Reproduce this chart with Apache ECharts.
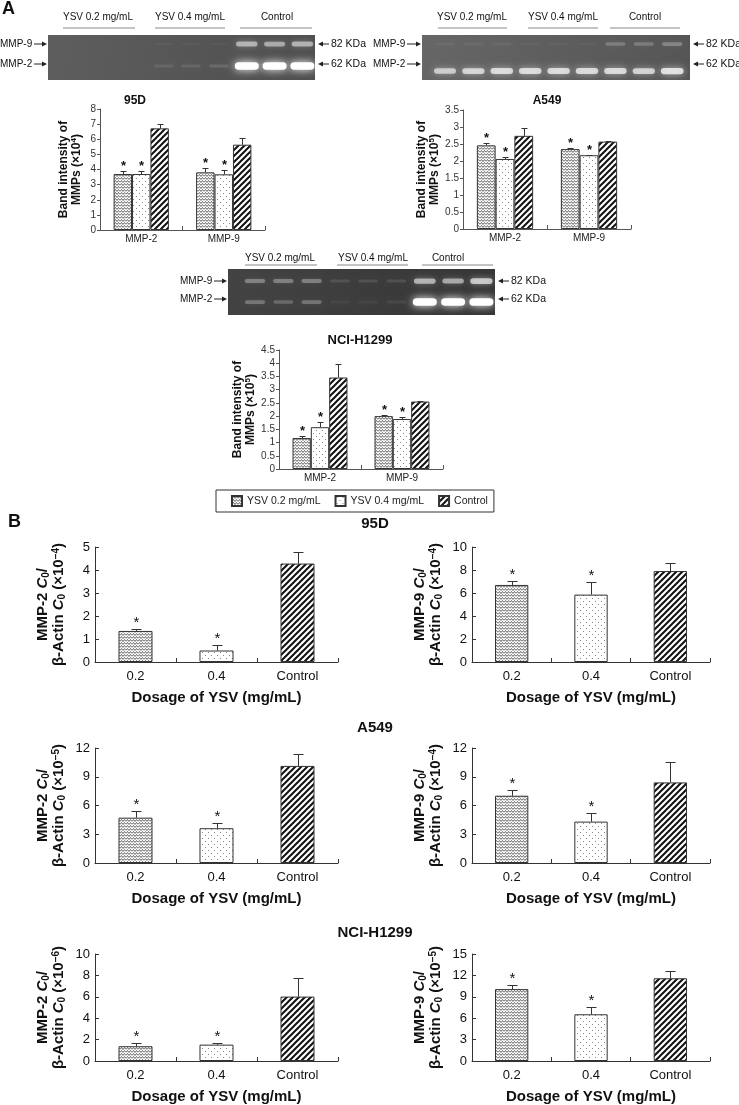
<!DOCTYPE html>
<html><head><meta charset="utf-8">
<script src="https://cdn.jsdelivr.net/npm/echarts@6/dist/echarts.min.js"></script>
<style>html,body{margin:0;padding:0;background:#fff}#c{width:739px;height:1105px}</style>
</head><body><div id="c"></div>
<script>
// ================= DATA =================
const groupsA = ['MMP-2', 'MMP-9'];
const seriesNames = ['YSV 0.2 mg/mL', 'YSV 0.4 mg/mL', 'Control'];
const sigA = [1, 1, 0];

// Panel A: 95D (x10^4)
const a95D_ysv02 = [3.70, 3.81]; const a95D_ysv02_err = [0.20, 0.30];
const a95D_ysv04 = [3.70, 3.68]; const a95D_ysv04_err = [0.20, 0.28];
const a95D_ctrl  = [6.72, 5.64]; const a95D_ctrl_err  = [0.28, 0.44];
const a95D_axis = [0, 8, 1];
// Panel A: A549 (x10^5)
const aA549_ysv02 = [2.46, 2.35]; const aA549_ysv02_err = [0.06, 0.04];
const aA549_ysv04 = [2.06, 2.17]; const aA549_ysv04_err = [0.05, 0.02];
const aA549_ctrl  = [2.74, 2.57]; const aA549_ctrl_err  = [0.22, 0.03];
const aA549_axis = [0, 3.5, 0.5];
// Panel A: NCI-H1299 (x10^5)
const aNCI_ysv02 = [1.17, 2.00]; const aNCI_ysv02_err = [0.07, 0.03];
const aNCI_ysv04 = [1.58, 1.89]; const aNCI_ysv04_err = [0.19, 0.06];
const aNCI_ctrl  = [3.46, 2.55]; const aNCI_ctrl_err  = [0.50, 0.02];
const aNCI_axis = [0, 4.5, 0.5];

// Panel B
const dosage = ['0.2', '0.4', 'Control'];
const sigB = [1, 1, 0];
const b95D_mmp2 = [1.35, 0.50, 4.28];   const b95D_mmp2_err = [0.07, 0.25, 0.50];
const b95D_mmp9 = [6.70, 5.86, 7.91];   const b95D_mmp9_err = [0.38, 1.10, 0.70];
const bA549_mmp2 = [4.73, 3.63, 10.13]; const bA549_mmp2_err = [0.67, 0.52, 1.25];
const bA549_mmp9 = [7.02, 4.32, 8.41];  const bA549_mmp9_err = [0.59, 0.87, 2.08];
const bNCI_mmp2 = [1.38, 1.53, 6.02];   const bNCI_mmp2_err = [0.30, 0.15, 1.71];
const bNCI_mmp9 = [10.08, 6.55, 11.60]; const bNCI_mmp9_err = [0.59, 1.01, 1.00];
const b95D_mmp2_axis = [0, 5, 1];
const b95D_mmp9_axis = [0, 10, 2];
const bA549_mmp2_axis = [0, 12, 3];
const bA549_mmp9_axis = [0, 12, 3];
const bNCI_mmp2_axis = [0, 10, 2];
const bNCI_mmp9_axis = [0, 15, 3];

// Gel zymography band intensities (9 lanes: 3 x YSV0.2, 3 x YSV0.4, 3 x Control)
const gelHeaders = ['YSV 0.2 mg/mL', 'YSV 0.4 mg/mL', 'Control'];
const gel95D_mmp9 = [0, 0, 0, 0.03, 0.03, 0.03, 0.5, 0.45, 0.5];
const gel95D_mmp2 = [0, 0, 0, 0.09, 0.09, 0.12, 1, 1, 1];
const gelA549_mmp9 = [0.05, 0.05, 0.05, 0.03, 0.03, 0.03, 0.2, 0.2, 0.25];
const gelA549_mmp2 = [0.6, 0.65, 0.7, 0.7, 0.7, 0.7, 0.7, 0.65, 0.75];
const gelNCI_mmp9 = [0.3, 0.3, 0.3, 0.1, 0.1, 0.1, 0.55, 0.5, 0.65];
const gelNCI_mmp2 = [0.25, 0.2, 0.25, 0.05, 0.05, 0.07, 1, 1, 1];

// ================= STYLE / LAYOUT =================
const FONT = '"Liberation Sans", Arial, Helvetica, sans-serif';
function mkCanvas(w, h, draw) {
  const c = document.createElement('canvas'); c.width = w; c.height = h;
  const g = c.getContext('2d'); g.fillStyle = '#fff'; g.fillRect(0, 0, w, h); draw(g); return c;
}
const zig = mkCanvas(6, 3, g => { g.strokeStyle = '#555'; g.lineWidth = 0.9; g.beginPath();
  g.moveTo(0, 2.5); g.lineTo(1.5, 0.5); g.lineTo(3, 2.5); g.lineTo(4.5, 0.5); g.lineTo(6, 2.5); g.stroke(); });
const dots = mkCanvas(6, 6, g => { g.fillStyle = '#888'; g.fillRect(1, 1, 1, 1); g.fillRect(4, 4, 1, 1); });
const stripes = mkCanvas(6, 6, g => { g.strokeStyle = '#111'; g.lineWidth = 2; g.beginPath();
  g.moveTo(-6, 6); g.lineTo(6, -6); g.moveTo(0, 6); g.lineTo(6, 0); g.moveTo(0, 12); g.lineTo(12, 0); g.stroke(); });
const patterns = [zig, dots, stripes].map(c => ({ image: c, repeat: 'repeat' }));

const grids = [
  { left: 100, top: 109, width: 165, height: 121 },
  { left: 463, top: 110, width: 168, height: 119 },
  { left: 279, top: 350, width: 164, height: 119 },
  { left: 95, top: 547, width: 243, height: 115 },
  { left: 472, top: 547, width: 238, height: 115 },
  { left: 95, top: 748, width: 243, height: 115 },
  { left: 472, top: 748, width: 238, height: 115 },
  { left: 95, top: 954, width: 243, height: 109 },
  { left: 472, top: 954, width: 238, height: 109 }
];

const xAxes = [], yAxes = [], series = [];

function errRender(nSeries, frac, capW, starFont) {
  return function (params, api) {
    const cat = api.value(0), s = api.value(1), v = api.value(2), e = api.value(3), sig = api.value(4);
    const band = api.size([1, 0])[0];
    const bw = band * frac / nSeries;
    const base = api.coord([cat, v]);
    const top = api.coord([cat, v + e]);
    const x = Math.round(base[0] + (s - (nSeries - 1) / 2) * bw) + 0.5;
    const ty = Math.round(top[1]) + 0.5;
    const ch = [
      { type: 'line', shape: { x1: x, y1: base[1], x2: x, y2: ty }, style: { stroke: '#333', lineWidth: 1 } },
      { type: 'line', shape: { x1: x - capW / 2, y1: ty, x2: x + capW / 2, y2: ty }, style: { stroke: '#333', lineWidth: 1 } }
    ];
    if (sig) ch.push({ type: 'text', x: x, y: ty + 1, style: { text: '*', font: starFont, fill: '#111',
      align: 'center', textAlign: 'center', verticalAlign: 'bottom', textVerticalAlign: 'bottom' } });
    return { type: 'group', children: ch };
  };
}

// ----- Panel A charts -----
const aSets = [
  { vals: [a95D_ysv02, a95D_ysv04, a95D_ctrl], errs: [a95D_ysv02_err, a95D_ysv04_err, a95D_ctrl_err], axis: a95D_axis, exp: '4' },
  { vals: [aA549_ysv02, aA549_ysv04, aA549_ctrl], errs: [aA549_ysv02_err, aA549_ysv04_err, aA549_ctrl_err], axis: aA549_axis, exp: '5' },
  { vals: [aNCI_ysv02, aNCI_ysv04, aNCI_ctrl], errs: [aNCI_ysv02_err, aNCI_ysv04_err, aNCI_ctrl_err], axis: aNCI_axis, exp: '5' }
];
aSets.forEach((set, gi) => {
  xAxes.push({ type: 'category', gridIndex: gi, data: groupsA,
    axisLine: { lineStyle: { color: '#555', width: 1 } },
    axisTick: { show: true, inside: true, length: 4, lineStyle: { color: '#555' } },
    axisLabel: { fontSize: 10, color: '#222', fontFamily: FONT, margin: 4 } });
  yAxes.push({ type: 'value', gridIndex: gi, min: set.axis[0], max: set.axis[1], interval: set.axis[2],
    splitLine: { show: false },
    axisLine: { show: true, lineStyle: { color: '#555', width: 1 } },
    axisTick: { show: true, length: 3, lineStyle: { color: '#555' } },
    axisLabel: { fontSize: 10, color: '#333', fontFamily: FONT, margin: 4 },
    name: 'Band intensity of\nMMPs (×10{sup|' + set.exp + '})', nameLocation: 'middle', nameRotate: 90, nameGap: 17,
    nameTextStyle: { fontSize: 12, fontWeight: 'bold', color: '#111', fontFamily: FONT, lineHeight: 13,
      rich: { sup: { fontSize: 8, fontWeight: 'bold', verticalAlign: 'top', color: '#111', fontFamily: FONT } } } });
  set.vals.forEach((arr, si) => {
    series.push({ type: 'bar', name: seriesNames[si], xAxisIndex: gi, yAxisIndex: gi, data: arr,
      barGap: '0%', barCategoryGap: '33%', itemStyle: { color: patterns[si], borderColor: '#333', borderWidth: 1 },
      silent: true, animation: false });
  });
  const errData = [];
  set.vals.forEach((arr, si) => arr.forEach((v, ci) => errData.push([ci, si, v, set.errs[si][ci], sigA[si]])));
  series.push({ type: 'custom', xAxisIndex: gi, yAxisIndex: gi, data: errData, encode: { x: 0, y: 2 },
    renderItem: errRender(3, 0.67, 6, 'bold 13px ' + FONT), silent: true, animation: false, z: 5 });
});

// ----- Panel B charts -----
const bSets = [
  { vals: b95D_mmp2, errs: b95D_mmp2_err, axis: b95D_mmp2_axis, mmp: '2', exp: '−4' },
  { vals: b95D_mmp9, errs: b95D_mmp9_err, axis: b95D_mmp9_axis, mmp: '9', exp: '−4' },
  { vals: bA549_mmp2, errs: bA549_mmp2_err, axis: bA549_mmp2_axis, mmp: '2', exp: '−5' },
  { vals: bA549_mmp9, errs: bA549_mmp9_err, axis: bA549_mmp9_axis, mmp: '9', exp: '−4' },
  { vals: bNCI_mmp2, errs: bNCI_mmp2_err, axis: bNCI_mmp2_axis, mmp: '2', exp: '−6' },
  { vals: bNCI_mmp9, errs: bNCI_mmp9_err, axis: bNCI_mmp9_axis, mmp: '9', exp: '−5' }
];
bSets.forEach((set, k) => {
  const gi = k + 3;
  xAxes.push({ type: 'category', gridIndex: gi, data: dosage,
    axisLine: { lineStyle: { color: '#333', width: 1 } },
    axisTick: { show: true, inside: true, length: 4, lineStyle: { color: '#333' } },
    axisLabel: { fontSize: 13, color: '#111', fontFamily: FONT, margin: 8 },
    name: 'Dosage of YSV (mg/mL)', nameLocation: 'middle', nameGap: 28,
    nameTextStyle: { fontSize: 15, fontWeight: 'bold', color: '#111', fontFamily: FONT } });
  yAxes.push({ type: 'value', gridIndex: gi, min: set.axis[0], max: set.axis[1], interval: set.axis[2],
    splitLine: { show: false },
    axisLine: { show: true, lineStyle: { color: '#333', width: 1 } },
    axisTick: { show: true, inside: true, length: 4, lineStyle: { color: '#333' } },
    axisLabel: { fontSize: 13, color: '#111', fontFamily: FONT, margin: 5 },
    name: '{t|MMP-' + set.mmp + ' }{i|C}{sub|0}{t|/}\n{t|β-Actin }{i|C}{sub|0}{t| (×10}{sup|' + set.exp + '}{t|)}',
    nameLocation: 'middle', nameRotate: 90, nameGap: 28,
    nameTextStyle: { fontSize: 15, fontWeight: 'bold', color: '#111', fontFamily: FONT, lineHeight: 16,
      rich: {
        t: { fontSize: 15, fontWeight: 'bold', color: '#111', fontFamily: FONT },
        i: { fontSize: 15, fontWeight: 'bold', fontStyle: 'italic', color: '#111', fontFamily: FONT },
        sub: { fontSize: 10, fontWeight: 'bold', verticalAlign: 'bottom', color: '#111', fontFamily: FONT },
        sup: { fontSize: 10, fontWeight: 'bold', verticalAlign: 'top', color: '#111', fontFamily: FONT }
      } } });
  series.push({ type: 'bar', name: 'B' + k, xAxisIndex: gi, yAxisIndex: gi,
    data: set.vals.map((v, i) => ({ value: v, itemStyle: { color: patterns[i] } })),
    barCategoryGap: '58%', itemStyle: { borderColor: '#333', borderWidth: 1 }, silent: true, animation: false });
  series.push({ type: 'custom', xAxisIndex: gi, yAxisIndex: gi,
    data: set.vals.map((v, i) => [i, 0, v, set.errs[i], sigB[i]]), encode: { x: 0, y: 2 },
    renderItem: errRender(1, 0.42, 10, '15px ' + FONT), silent: true, animation: false, z: 5 });
});

// ----- Graphic: gels, titles, panel letters -----
const graphic = [];
function txt(x, y, text, font, align, vAlign, fill) {
  graphic.push({ type: 'text', x: x, y: y, silent: true, style: { text: text, font: font, fill: fill || '#111',
    align: align || 'center', textAlign: align || 'center', verticalAlign: vAlign || 'middle', textVerticalAlign: vAlign || 'middle' } });
}
function line(x1, y1, x2, y2, color) {
  graphic.push({ type: 'line', silent: true, shape: { x1, y1, x2, y2 }, style: { stroke: color || '#222', lineWidth: 1 } });
}
function arrowRight(x1, x2, y) { // head at x2
  line(x1, y, x2 - 4, y);
  graphic.push({ type: 'polygon', silent: true, shape: { points: [[x2, y], [x2 - 5, y - 2.5], [x2 - 5, y + 2.5]] }, style: { fill: '#222' } });
}
function arrowLeft(x1, x2, y) { // head at x1
  line(x1 + 4, y, x2, y);
  graphic.push({ type: 'polygon', silent: true, shape: { points: [[x1, y], [x1 + 5, y - 2.5], [x1 + 5, y + 2.5]] }, style: { fill: '#222' } });
}
function gel(g) {
  g.heads.forEach((h, i) => { txt(h[0], g.headY, gelHeaders[i], '10px ' + FONT); line(h[1], g.lineY, h[2], g.lineY, '#888'); });
  graphic.push({ type: 'rect', silent: true, shape: { x: g.x, y: g.y, width: g.w, height: g.h },
    style: { fill: { type: 'linear', x: 0, y: 0, x2: 1, y2: 1, colorStops: [{ offset: 0, color: g.c1 }, { offset: 1, color: g.c2 }] } } });
  [[g.b9, g.y9], [g.b2, g.y2]].forEach(([bands, by]) => {
    bands.forEach((a, i) => {
      if (a <= 0) return;
      const cx = g.lane0 + i * g.step, hh = 2.5 + 5 * a, ww = 19 + 5 * a;
      graphic.push({ type: 'rect', silent: true, shape: { x: cx - ww / 2, y: by - hh / 2, width: ww, height: hh, r: hh / 2 },
        style: { fill: 'rgba(255,255,255,' + Math.min(1, a) + ')', shadowBlur: 3 + 6 * a, shadowColor: 'rgba(255,255,255,' + a + ')' } });
    });
  });
  txt(g.lx, g.a9, 'MMP-9', '10px ' + FONT, 'left');
  txt(g.lx, g.a2, 'MMP-2', '10px ' + FONT, 'left');
  arrowRight(g.lx + 34, g.x - 1, g.a9);
  arrowRight(g.lx + 34, g.x - 1, g.a2);
  arrowLeft(g.x + g.w + 3, g.x + g.w + 14, g.a9);
  arrowLeft(g.x + g.w + 3, g.x + g.w + 14, g.a2);
  txt(g.x + g.w + 16, g.a9, '82 KDa', '10.5px ' + FONT, 'left');
  txt(g.x + g.w + 16, g.a2, '62 KDa', '10.5px ' + FONT, 'left');
}
gel({ x: 48, y: 35, w: 267, h: 45, c1: '#5e5e5e', c2: '#4e4e4e', lane0: 80, step: 27.8, y9: 44, y2: 66,
  b9: gel95D_mmp9, b2: gel95D_mmp2, a9: 44, a2: 64, lx: 0, headY: 17, lineY: 28,
  heads: [[98, 63, 135], [190, 155, 225], [277, 240, 312]] });
gel({ x: 422, y: 35, w: 268, h: 45, c1: '#666', c2: '#555', lane0: 445, step: 28.4, y9: 44, y2: 71,
  b9: gelA549_mmp9, b2: gelA549_mmp2, a9: 44, a2: 64, lx: 373, headY: 17, lineY: 28,
  heads: [[472, 438, 507], [563, 528, 598], [645, 610, 680]] });
gel({ x: 228, y: 269, w: 267, h: 46, c1: '#434343', c2: '#353535', lane0: 255, step: 28.3, y9: 281, y2: 302,
  b9: gelNCI_mmp9, b2: gelNCI_mmp2, a9: 281, a2: 299, lx: 180, headY: 258, lineY: 265,
  heads: [[280, 245, 317], [373, 337, 408], [448, 422, 493]] });

// titles
txt(2, 9, 'A', 'bold 18px ' + FONT, 'left');
txt(135, 101, '95D', 'bold 12px ' + FONT);
txt(547, 101, 'A549', 'bold 12px ' + FONT);
txt(360, 340, 'NCI-H1299', 'bold 13px ' + FONT);
txt(8, 522, 'B', 'bold 18px ' + FONT, 'left');
txt(375, 524, '95D', 'bold 15px ' + FONT);
txt(375, 728, 'A549', 'bold 15px ' + FONT);
txt(375, 933, 'NCI-H1299', 'bold 15px ' + FONT);

const option = {
  animation: false,
  backgroundColor: '#fff',
  textStyle: { fontFamily: FONT },
  grid: grids,
  xAxis: xAxes,
  yAxis: yAxes,
  series: series,
  legend: { data: seriesNames, left: 216, top: 490, orient: 'horizontal', icon: 'rect', itemWidth: 10, itemHeight: 10,
    itemGap: 14, selectedMode: false, borderColor: '#333', borderWidth: 1, padding: [5, 6, 5, 15],
    textStyle: { fontSize: 10.5, color: '#222', fontFamily: FONT } },
  graphic: graphic
};
const chart = echarts.init(document.getElementById('c'), null, { renderer: 'canvas' });
chart.setOption(option);
</script></body></html>
